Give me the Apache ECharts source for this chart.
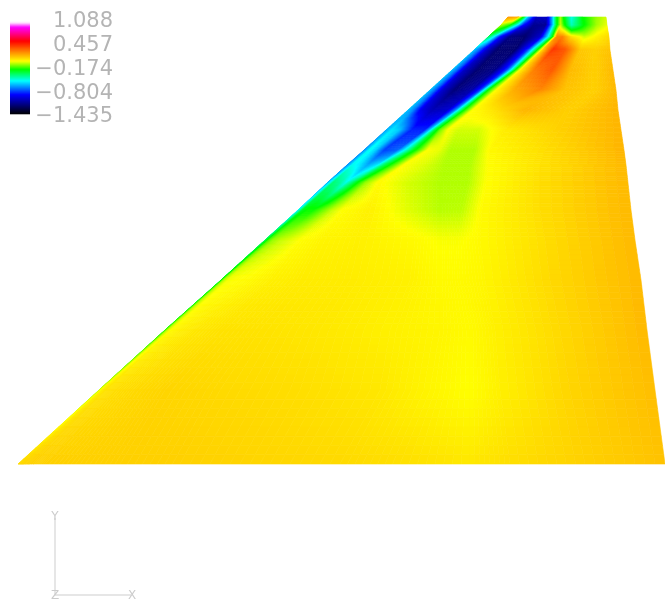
<!DOCTYPE html>
<html><head><meta charset="utf-8">
<style>html,body{margin:0;padding:0;background:#fff}#c{width:665px;height:601px}</style>
<script src="https://cdn.jsdelivr.net/npm/echarts@6/dist/echarts.min.js"></script>
</head><body><div id="c"></div>
<script>
// Colour scale and its tick labels
const legendTicks = [1.088, 0.457, -0.174, -0.804, -1.435];
const scaleStops = [-1.435, -0.9, -0.52, -0.21, 0.02, 0.57, 0.95, 1.088];
const scaleColors = [[0,0,0],[0,0,255],[0,255,255],[0,255,0],[255,255,0],[255,0,0],[255,0,255],[255,255,255]];
const axisNames = ['Y', 'Z', 'X'];

// Mesh stations (model height), and per-station node positions / field values
const stationY = [447,439,427,414,394,374,354,334,314,299,281,254,224,184,134,74,0];
const x01=[490,500,506,510,519,529,535,539,543,547,554,565,578,588];
const v01=[.25,.2,-.2,-.55,-1.02,-1.02,-.6,-.25,-.05,-.25,-.5,-.22,-.08,-.02];
const x02=[483,492,499,506,516,528,535,539,543,547,554,566,579,589];
const v02=[-.02,-.15,-.45,-.85,-1.12,-1.12,-.6,-.25,-.02,-.2,-.45,-.22,-.06,0];
const x03=[470,476,482,492,507,522,530,535,539,545,554,567,580,591];
const v03=[-.3,-.5,-.85,-1.15,-1.2,-1,-.55,-.2,.28,.28,.08,-.02,.05,.1];
const x04=[456,462,469,479,497,510,515,520,525,535,547,562,577,592];
const v04=[-.6,-.75,-1,-1.2,-1.2,-.8,-.5,-.2,.12,.45,.38,.14,.12,.15];
const x05=[434,440,447,460,477,489,494,498,503,517,534,552,577,595];
const v05=[-.6,-.75,-1.02,-1.2,-1.15,-.8,-.5,-.2,.05,.3,.38,.17,.12,.17];
const x06=[412,418,425,437,454,463,467,471,479,497,522,547,577,598];
const v06=[-.6,-.75,-1,-1.18,-1.08,-.8,-.5,-.2,.03,.2,.28,.15,.12,.17];
const x07=[390,396,404,415,430,438,442,447,455,467,482,507,552,600];
const v07=[-.6,-.7,-.95,-1.05,-1,-.7,-.45,-.2,.02,.05,.1,.18,.12,.18];
const x08=[368,374,382,394,407,413,417,422,430,440,460,487,542,603];
const v08=[-.65,-.55,-.6,-.85,-.85,-.55,-.3,-.12,.02,-.02,-.02,.06,.12,.18];
const x09=[346,352,359,367,380,388,396,410,422,432,457,472,527,606];
const v09=[-.7,-.5,-.6,-.8,-.75,-.5,-.25,.02,0,-.05,-.05,.03,.09,.18];
const x10=[329,335,342,350,360,366,374,386,407,427,452,470,522,608];
const v10=[-.7,-.5,-.55,-.65,-.55,-.35,-.18,.02,-.01,-.05,-.05,.02,.08,.17];
const x11=[309,315,322,328,334,340,347,360,392,422,450,468,522,610];
const v11=[-.65,-.35,-.4,-.5,-.35,-.2,-.08,.03,-.02,-.05,-.05,.02,.09,.17];
const x12=[280,285,290,296,304,314,324,352,392,422,444,464,522,613];
const v12=[-.55,-.25,-.2,-.2,-.13,-.04,.02,.05,-.01,-.045,-.04,.03,.09,.17];
const x13=[247,251,255,262,272,282,302,342,397,422,440,462,527,617];
const v13=[-.35,-.15,-.08,-.04,-.01,.02,.04,.05,.03,.015,.015,.03,.09,.17];
const x14=[203,206,210,218,232,252,282,332,392,422,442,467,532,623];
const v14=[-.25,-.05,.01,.02,.03,.05,.06,.06,.05,.03,.03,.04,.1,.17];
const x15=[147,150,154,162,177,202,242,302,372,422,452,477,542,629];
const v15=[-.2,-.03,.03,.05,.07,.08,.08,.07,.05,.04,.03,.05,.1,.17];
const x16=[81,84,88,97,117,147,202,282,362,412,452,482,552,637];
const v16=[-.05,.05,.08,.09,.1,.11,.1,.09,.07,.04,.02,.05,.11,.16];
const x17=[0,6,12,27,62,102,162,242,322,382,452,492,567,647];
const v17=[.1,.11,.12,.12,.12,.12,.12,.11,.1,.09,.07,.09,.12,.15];

const xRows=[x01,x02,x03,x04,x05,x06,x07,x08,x09,x10,x11,x12,x13,x14,x15,x16,x17];
const vRows=[v01,v02,v03,v04,v05,v06,v07,v08,v09,v10,v11,v12,v13,v14,v15,v16,v17];

function colorOf(v){
  if(v<=scaleStops[0]) return scaleColors[0];
  for(let i=1;i<scaleStops.length;i++){
    if(v<=scaleStops[i]){
      const t=(v-scaleStops[i-1])/(scaleStops[i]-scaleStops[i-1]);
      const a=scaleColors[i-1],b=scaleColors[i];
      return [a[0]+(b[0]-a[0])*t,a[1]+(b[1]-a[1])*t,a[2]+(b[2]-a[2])*t];
    }
  }
  return scaleColors[scaleColors.length-1];
}
const css=c=>'rgb('+Math.round(c[0])+','+Math.round(c[1])+','+Math.round(c[2])+')';

// One data item per mesh cell: its four corners and their values
const cells=[];
for(let r=0;r<xRows.length-1;r++){
  for(let c=0;c<xRows[r].length-1;c++){
    cells.push([
      xRows[r][c],stationY[r],vRows[r][c],
      xRows[r][c+1],stationY[r],vRows[r][c+1],
      xRows[r+1][c+1],stationY[r+1],vRows[r+1][c+1],
      xRows[r+1][c],stationY[r+1],vRows[r+1][c]
    ]);
  }
}

function renderCell(params,api){
  const P=[0,3,6,9].map(k=>api.coord([api.value(k),api.value(k+1)]));
  const V=[2,5,8,11].map(k=>api.value(k));
  const spread=Math.max.apply(null,V)-Math.min.apply(null,V);
  const n=Math.max(8,Math.min(24,Math.ceil(spread/0.012)));
  const pt=(s,t)=>[
    (1-t)*((1-s)*P[0][0]+s*P[1][0])+t*((1-s)*P[3][0]+s*P[2][0]),
    (1-t)*((1-s)*P[0][1]+s*P[1][1])+t*((1-s)*P[3][1]+s*P[2][1])
  ];
  const val=(s,t)=>(1-t)*((1-s)*V[0]+s*V[1])+t*((1-s)*V[3]+s*V[2]);
  const children=[];
  for(let i=0;i<n;i++)for(let j=0;j<n;j++){
    const s0=i/n,s1=(i+1)/n,t0=j/n,t1=(j+1)/n;
    const col=css(colorOf(val((s0+s1)/2,(t0+t1)/2)));
    children.push({type:'polygon',shape:{points:[pt(s0,t0),pt(s1,t0),pt(s1,t1),pt(s0,t1)]},
      style:{fill:col,stroke:col,lineWidth:0.6}});
  }
  return {type:'group',children};
}

// Colour bar: a stack of value bands on the legend's own axis
const barBands=[];
for(let i=0;i<92;i++){
  barBands.push([legendTicks[4]+(legendTicks[0]-legendTicks[4])*i/92,
                 legendTicks[4]+(legendTicks[0]-legendTicks[4])*(i+1)/92]);
}
function renderBand(params,api){
  const a=api.coord([0,api.value(0)]), b=api.coord([1,api.value(1)]);
  const col=css(colorOf((api.value(0)+api.value(1))/2));
  return {type:'rect',shape:{x:a[0],y:b[1]-0.3,width:b[0]-a[0],height:a[1]-b[1]+0.6},style:{fill:col}};
}

const chart=echarts.init(document.getElementById('c'),null,{renderer:'canvas'});
const grayText='#b4b4b4', triadLine='#dedede', triadText='#cccccc';
chart.setOption({
  animation:false,
  backgroundColor:'#fff',
  grid:[
    {left:18,top:17,width:647,height:447,show:false},
    {left:10,top:22,width:20,height:92,show:false},
    {left:10,top:22,width:20,height:95,show:false}
  ],
  xAxis:[
    {type:'value',gridIndex:0,min:0,max:647,show:false},
    {type:'value',gridIndex:1,min:0,max:1,show:false},
    {type:'value',gridIndex:2,min:0,max:1,show:false}
  ],
  yAxis:[
    {type:'value',gridIndex:0,min:0,max:447,show:false},
    {type:'value',gridIndex:1,min:legendTicks[4],max:legendTicks[0],show:false},
    {type:'value',gridIndex:2,min:legendTicks[4],max:legendTicks[0],position:'left',
     axisLine:{show:false},axisTick:{show:false},splitLine:{show:false},
     axisLabel:{inside:true,customValues:legendTicks,showMinLabel:true,showMaxLabel:true,
       align:'right',margin:103,color:grayText,fontSize:21,fontFamily:'DejaVu Sans',
       formatter:v=>{const f=legendTicks.reduce((a,b)=>Math.abs(b-v)<Math.abs(a-v)?b:a);
         return (f<0?'\u2212':'')+Math.abs(f).toFixed(3);}}}
  ],
  series:[
    {type:'custom',coordinateSystem:'cartesian2d',xAxisIndex:0,yAxisIndex:0,silent:true,clip:false,
     renderItem:renderCell,data:cells,progressive:0,animation:false,encode:{x:0,y:1}},
    {type:'custom',coordinateSystem:'cartesian2d',xAxisIndex:1,yAxisIndex:1,silent:true,clip:false,
     renderItem:renderBand,data:barBands,progressive:0,animation:false,encode:{y:[0,1]}}
  ],
  graphic:[
    {type:'line',shape:{x1:55,y1:518,x2:55,y2:595},style:{stroke:triadLine,lineWidth:1.5}},
    {type:'line',shape:{x1:55,y1:595,x2:131,y2:595},style:{stroke:triadLine,lineWidth:1.5}},
    {type:'text',x:55,y:517,style:{text:axisNames[0],fill:triadText,fontSize:12,fontFamily:'DejaVu Sans',align:'center',verticalAlign:'middle'}},
    {type:'text',x:55,y:596,style:{text:axisNames[1],fill:triadText,fontSize:12,fontFamily:'DejaVu Sans',align:'center',verticalAlign:'middle'}},
    {type:'text',x:132,y:596,style:{text:axisNames[2],fill:triadText,fontSize:12,fontFamily:'DejaVu Sans',align:'center',verticalAlign:'middle'}}
  ]
});
</script></body></html>
